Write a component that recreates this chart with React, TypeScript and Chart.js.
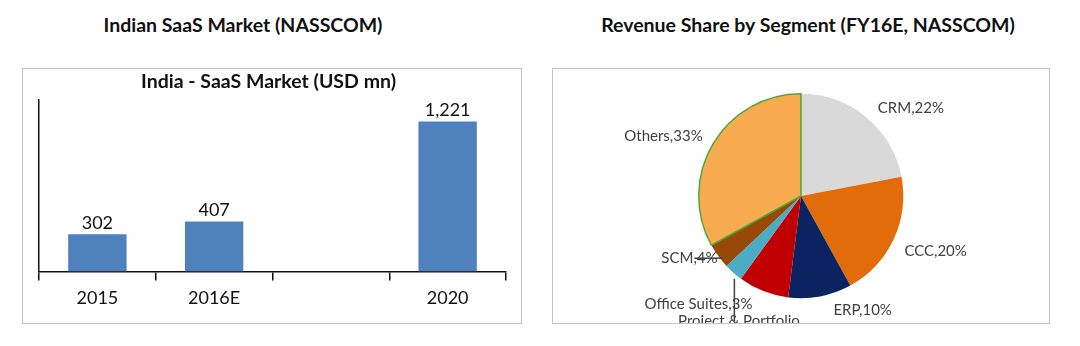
import React, { useEffect, useRef } from 'react';
import { Chart, registerables } from 'chart.js';

Chart.register(...registerables);

// ---------- data ----------
const barCategories: string[] = ['2015', '2016E', '', '2020'];
const barValues: (number | null)[] = [302, 407, null, 1221];

const pieSegments: string[] = ['CRM', 'CCC', 'ERP', 'Project & Portfolio', 'Office Suites', 'SCM', 'Others'];
const pieShares: number[] = [22, 20, 10, 8, 3, 4, 33];
const pieLabelTexts: string[][] = [
  ['CRM,22%'],
  ['CCC,20%'],
  ['ERP,10%'],
  ['Project & Portfolio', 'Management,8%'],
  ['Office Suites,3%'],
  ['SCM,4%'],
  ['Others,33%'],
];

const FONT = 'Lato, "Open Sans", "DejaVu Sans", sans-serif';

// ---------- plugins ----------
const barValueLabels = {
  id: 'barValueLabels',
  afterDatasetsDraw(chart: any) {
    const ctx = chart.ctx;
    const meta = chart.getDatasetMeta(0);
    ctx.save();
    ctx.font = `18px ${FONT}`;
    ctx.fillStyle = '#111';
    ctx.textAlign = 'center';
    ctx.textBaseline = 'alphabetic';
    meta.data.forEach((bar: any, i: number) => {
      const v = barValues[i];
      if (v == null) return;
      ctx.fillText(v.toLocaleString('en-US'), bar.x, bar.y - 5);
    });
    ctx.restore();
  },
};

// per-label alignment tweaks (relative to default outside placement)
const pieLabelNudges: [number, number][] = [
  [4, 0],
  [0, 7],
  [11, 2],
  [-20, 19],
  [27, 22],
  [9, -5],
  [0, -2],
];
const pieLabelAlign: ('left' | 'right' | 'center')[] = ['left', 'left', 'left', 'center', 'right', 'right', 'right'];

const pieLabels = {
  id: 'pieLabels',
  afterDatasetsDraw(chart: any) {
    const ctx = chart.ctx;
    const meta = chart.getDatasetMeta(0);
    ctx.save();
    ctx.font = `15px ${FONT}`;
    ctx.fillStyle = '#404040';
    ctx.textBaseline = 'middle';
    meta.data.forEach((arc: any, i: number) => {
      const { x, y, startAngle, endAngle, outerRadius } = arc.getProps(
        ['x', 'y', 'startAngle', 'endAngle', 'outerRadius'],
        true
      );
      const mid = (startAngle + endAngle) / 2;
      const r = outerRadius + 12;
      const lx = x + Math.cos(mid) * r + pieLabelNudges[i][0];
      const ly = y + Math.sin(mid) * r + pieLabelNudges[i][1];
      ctx.textAlign = pieLabelAlign[i];
      pieLabelTexts[i].forEach((line, k) => {
        ctx.fillText(line, lx, ly + k * 18);
      });
      // leader lines for small slices
      const ox = x + Math.cos(mid) * outerRadius;
      const oy = y + Math.sin(mid) * outerRadius;
      ctx.strokeStyle = '#404040';
      ctx.lineWidth = 1.5;
      if (pieSegments[i] === 'SCM') {
        ctx.beginPath();
        ctx.moveTo(ox + 4, ly);
        ctx.lineTo(ox - 24, ly);
        ctx.stroke();
      } else if (pieSegments[i] === 'Office Suites') {
        ctx.beginPath();
        ctx.moveTo(ox + 1, oy + 6);
        ctx.lineTo(ox + 1, ly + 18);
        ctx.stroke();
      }
    });
    ctx.restore();
  },
};

// ---------- components ----------
function BarChart() {
  const ref = useRef<HTMLCanvasElement>(null);
  useEffect(() => {
    if (!ref.current) return;
    const chart = new Chart(ref.current, {
      type: 'bar',
      data: {
        labels: barCategories,
        datasets: [
          {
            data: barValues as any,
            backgroundColor: '#4F81BD',
            borderWidth: 0,
            categoryPercentage: 1,
            barPercentage: 0.5,
          },
        ],
      },
      options: {
        animation: false,
        responsive: false,
        maintainAspectRatio: false,
        layout: { padding: { left: 9, right: 16, top: 0, bottom: 8 } },
        plugins: {
          legend: { display: false },
          tooltip: { enabled: false },
          title: {
            display: true,
            text: 'India - SaaS Market (USD mn)',
            color: '#111',
            font: { family: FONT, size: 19.5, weight: 'bold' },
            padding: { top: 2, bottom: 6 },
          },
        },
        scales: {
          x: {
            offset: true,
            grid: {
              display: true,
              drawOnChartArea: false,
              drawTicks: true,
              tickLength: 9,
              color: '#111',
              lineWidth: 1.5,
              offset: true,
            },
            border: { display: true, color: '#111', width: 1.5 },
            ticks: { color: '#111', font: { family: FONT, size: 18 }, padding: 7 },
          },
          y: {
            min: 0,
            max: 1400,
            ticks: { display: false },
            grid: { display: false },
            border: { display: true, color: '#111', width: 1.5 },
          },
        },
      },
      plugins: [barValueLabels],
    } as any);
    return () => chart.destroy();
  }, []);
  return <canvas ref={ref} width={500} height={256} style={{ position: 'absolute', left: 0, top: 0 }} />;
}

function PieChart() {
  const ref = useRef<HTMLCanvasElement>(null);
  useEffect(() => {
    if (!ref.current) return;
    const chart = new Chart(ref.current, {
      type: 'pie',
      data: {
        labels: pieSegments,
        datasets: [
          {
            data: pieShares,
            backgroundColor: ['#D9D9D9', '#E36C0A', '#0B2461', '#C00000', '#4BACC6', '#984807', '#F9AC4F'],
            borderColor: ['#D9D9D9', '#E36C0A', '#0B2461', '#C00000', '#4BACC6', '#984807', '#4DA83A'],
            borderWidth: [0, 0, 0, 0, 0, 0, 1.5],
          },
        ],
      },
      options: {
        animation: false,
        responsive: false,
        maintainAspectRatio: false,
        layout: { padding: { left: 0, right: 0, top: 25, bottom: 25 } },
        plugins: {
          legend: { display: false },
          tooltip: { enabled: false },
        },
      },
      plugins: [pieLabels],
    } as any);
    return () => chart.destroy();
  }, []);
  return <canvas ref={ref} width={498} height={256} style={{ position: 'absolute', left: 0, top: 0 }} />;
}

const titleStyle: React.CSSProperties = {
  position: 'absolute',
  top: 14,
  height: 22,
  lineHeight: '22px',
  textAlign: 'center',
  fontFamily: FONT,
  fontWeight: 'bold',
  fontSize: 19.5,
  color: '#111',
  whiteSpace: 'nowrap',
};

const boxBorder: React.CSSProperties = {
  position: 'absolute',
  left: 0,
  top: 0,
  right: 0,
  bottom: 0,
  border: '1.5px solid #C4C4C4',
  pointerEvents: 'none',
};

export default function App() {
  return (
    <div
      style={{
        position: 'absolute',
        left: 0,
        top: 0,
        width: 1080,
        height: 346,
        background: '#FFFFFF',
        overflow: 'hidden',
      }}
    >
      <div style={{ ...titleStyle, left: 0, width: 486 }}>Indian SaaS Market (NASSCOM)</div>
      <div style={{ ...titleStyle, left: 508, width: 600 }}>Revenue Share by Segment (FY16E, NASSCOM)</div>
      <div style={{ position: 'absolute', left: 22, top: 68, width: 500, height: 256 }}>
        <BarChart />
        <div style={boxBorder} />
      </div>
      <div style={{ position: 'absolute', left: 552, top: 68, width: 498, height: 256, overflow: 'hidden' }}>
        <PieChart />
        <div style={boxBorder} />
      </div>
    </div>
  );
}
